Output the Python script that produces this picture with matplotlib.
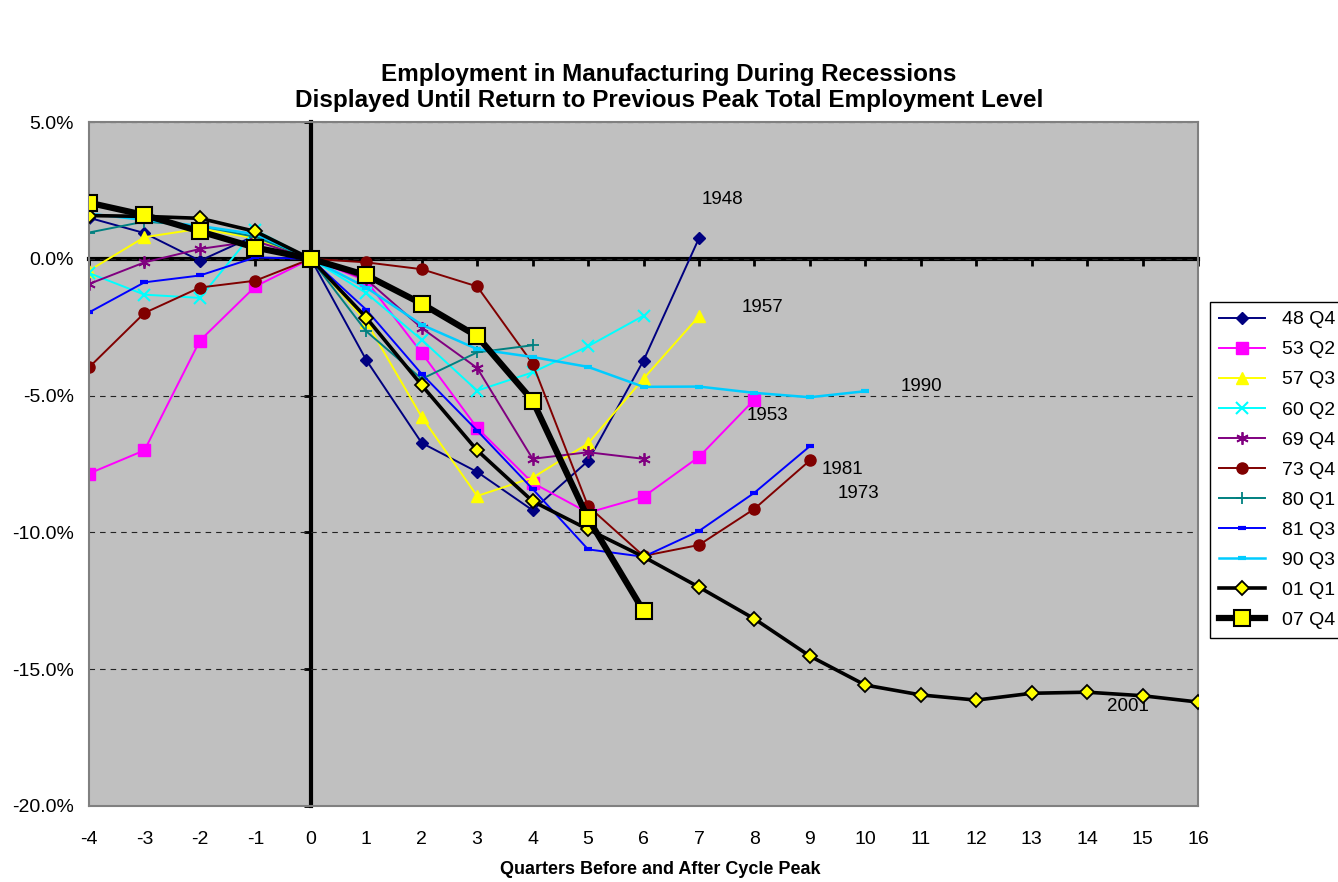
import numpy as np
import matplotlib
matplotlib.use("Agg")
import matplotlib.pyplot as plt

plt.rcParams['font.family'] = ['Liberation Sans', 'DejaVu Sans']
plt.rcParams['axes.unicode_minus'] = False

# quarters before / after the cycle peak
quarters = list(range(-4, 17))

# employment change in percent, one list per recession (starting at quarter -4)
r48q4 = [1.5, 0.94, -0.07, 0.85, 0.0, -3.7, -6.73, -7.79, -9.19, -7.39, -3.72, 0.75]
r53q2 = [-7.85, -7.0, -2.99, -1.01, 0.0, -0.8, -3.44, -6.18, -8.19, -9.28, -8.7, -7.24, -5.15]
r57q3 = [-0.43, 0.79, 1.1, 0.75, 0.0, -2.3, -5.78, -8.67, -8.0, -6.75, -4.38, -2.1]
r60q2 = [-0.52, -1.31, -1.43, 1.05, 0.0, -1.25, -2.96, -4.82, -4.15, -3.2, -2.08]
r69q4 = [-0.92, -0.13, 0.36, 0.65, 0.0, -0.75, -2.53, -3.99, -7.31, -7.07, -7.31]
r73q4 = [-3.97, -1.98, -1.05, -0.8, 0.0, -0.13, -0.38, -1.01, -3.83, -9.04, -10.86, -10.46, -9.14, -7.37]
r80q1 = [0.96, 1.36, 1.2, 0.8, 0.0, -2.65, -4.39, -3.42, -3.16]
r81q3 = [-1.96, -0.86, -0.61, 0.05, 0.0, -1.86, -4.21, -6.28, -8.41, -10.62, -10.89, -9.95, -8.55, -6.85]
r90q3 = [1.65, 1.42, 1.2, 0.9, 0.0, -1.05, -2.41, -3.3, -3.59, -3.95, -4.68, -4.67, -4.9, -5.06, -4.84]
r01q1 = [1.58, 1.55, 1.48, 1.0, 0.0, -2.15, -4.62, -7.0, -8.86, -9.89, -10.89, -12.0, -13.16,
         -14.52, -15.58, -15.94, -16.13, -15.88, -15.84, -15.97, -16.2]
r07q4 = [2.05, 1.6, 1.0, 0.41, 0.0, -0.6, -1.64, -2.83, -5.18, -9.49, -12.87]

labels = ['48 Q4', '53 Q2', '57 Q3', '60 Q2', '69 Q4', '73 Q4', '80 Q1', '81 Q3', '90 Q3', '01 Q1', '07 Q4']
series = [r48q4, r53q2, r57q3, r60q2, r69q4, r73q4, r80q1, r81q3, r90q3, r01q1, r07q4]

# text labels next to the lines
note_text = ['1948', '1957', '1990', '1953', '1981', '1973', '2001']
note_x = [7.43, 8.14, 11.02, 8.23, 9.58, 9.87, 14.74]
note_y = [2.15, -1.79, -4.67, -5.73, -7.70, -8.58, -16.35]

styles = [
    dict(color='#000080', marker='D', ms=6, lw=1.4),
    dict(color='#FF00FF', marker='s', ms=8, lw=1.4),
    dict(color='#FFFF00', marker='^', ms=9, lw=1.4),
    dict(color='#00FFFF', marker='x', ms=8, mew=1.5, lw=1.4),
    dict(color='#800080', marker=(6, 2, 0), ms=9, mew=1.3, lw=1.4),
    dict(color='#800000', marker='o', ms=8, lw=1.4),
    dict(color='#008080', marker='+', ms=9, mew=1.3, lw=1.4),
    dict(color='#0000FF', marker='_', ms=6, mew=3, lw=1.4),
    dict(color='#00CCFF', marker='_', ms=6, mew=3, lw=1.8),
    dict(color='black', marker='D', ms=7, mfc='#FFFF00', mec='black', mew=1.3, lw=2.6, zorder=5),
    dict(color='black', marker='s', ms=11, mfc='#FFFF00', mec='black', mew=1.5, lw=4.5, zorder=6),
]

fig = plt.figure(figsize=(13.38, 8.82), dpi=100)
ax = fig.add_axes([89 / 1338, 76 / 882, 1109 / 1338, 684 / 882])
ax.set_facecolor('#C0C0C0')

for vals, lab, st in zip(series, labels, styles):
    ax.plot(quarters[:len(vals)], vals, label=lab, **st)

for t, x, y in zip(note_text, note_x, note_y):
    ax.text(x, y, t, fontsize=13.5, ha='center', va='center')

ax.set_xlim(-4, 16)
ax.set_ylim(-20, 5)
ax.set_xticks(quarters)
ax.set_yticks(np.arange(-20, 6, 5))
ax.set_yticklabels(['%.1f%%' % v for v in np.arange(-20, 6, 5)])
ax.tick_params(axis='both', length=0, labelsize=14)
ax.tick_params(axis='x', pad=18)
ax.tick_params(axis='y', pad=11)
ax.yaxis.grid(True, color='#222222', lw=0.8, linestyle=(0, (5, 4.5)))
ax.set_axisbelow(True)
for sp in ax.spines.values():
    sp.set_color('#808080')
    sp.set_linewidth(1.5)

# axis lines crossing at the origin
secx = ax.secondary_xaxis(20 / 25)
secx.set_xticks(quarters)
secx.tick_params(direction='in', length=5, width=2, labeltop=False, labelbottom=False)
secx.spines['top'].set_linewidth(3)
secy = ax.secondary_yaxis(4 / 20)
secy.set_yticks(np.arange(-20, 6, 5))
secy.tick_params(direction='out', length=5, width=2, labelleft=False, labelright=False)
secy.spines['left'].set_linewidth(3)

fig.text(0.5, 1 - 75 / 882, 'Employment in Manufacturing During Recessions', ha='center', va='center',
         fontsize=17.5, fontweight='bold')
fig.text(0.5, 1 - 100 / 882, 'Displayed Until Return to Previous Peak Total Employment Level', ha='center',
         va='center', fontsize=17.5, fontweight='bold')
fig.text(660 / 1338, 1 - 870 / 882, 'Quarters Before and After Cycle Peak', ha='center', va='center',
         fontsize=13, fontweight='bold')

leg = fig.legend(loc='upper left', bbox_to_anchor=(1210 / 1338, 1 - 302 / 882), fontsize=14,
                 frameon=True, fancybox=False, edgecolor='black', framealpha=1, labelspacing=0.64,
                 handlelength=2.4, handletextpad=0.85, borderpad=0.45, borderaxespad=0)
leg.get_frame().set_linewidth(1)

fig.savefig('out.png', dpi=100)
